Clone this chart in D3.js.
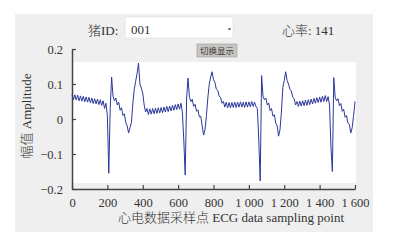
<!DOCTYPE html>
<html>
<head>
<meta charset="utf-8">
<script src="https://cdn.jsdelivr.net/npm/d3@7"></script>
<style>
  body { margin: 0; background: #fff; }
  svg { display: block; }
  text { font-family: "Liberation Serif", "Noto Sans CJK SC", serif; fill: #333; }
</style>
</head>
<body>
<div id="chart"></div>
<script>
// amplitude, one value every 8 sampling points (0 .. 1600)
var sampleStep = 8;
var amplitude = [
  0.070, 0.055, 0.069, 0.054, 0.068, 0.052, 0.066, 0.051, 0.065, 0.049,
  0.063, 0.048, 0.062, 0.046, 0.060, 0.044, 0.058, 0.043, 0.057, 0.041,
  0.055, 0.039, 0.052, 0.030, 0.045, 0.010, -0.155, 0.030, 0.120, 0.065,
  0.052, 0.060, 0.040, 0.048, 0.025, 0.032, 0.010, 0.015, -0.010, -0.020,
  -0.040, -0.025, -0.010, 0.045, 0.085, 0.108, 0.130, 0.160, 0.100, 0.088,
  0.074, 0.040, 0.020, 0.030, 0.013, 0.029, 0.014, 0.030, 0.015, 0.031,
  0.016, 0.032, 0.017, 0.033, 0.018, 0.034, 0.020, 0.036, 0.021, 0.037,
  0.023, 0.039, 0.025, 0.041, 0.027, 0.043, 0.028, 0.045, 0.020, -0.060,
  -0.160, 0.060, 0.117, 0.062, 0.050, 0.056, 0.036, 0.042, 0.022, 0.026,
  0.006, 0.008, -0.020, -0.046, -0.030, 0.010, 0.060, 0.100, 0.120, 0.135,
  0.112, 0.105, 0.085, 0.082, 0.065, 0.062, 0.045, 0.050, 0.034, 0.048,
  0.032, 0.047, 0.032, 0.047, 0.033, 0.048, 0.033, 0.048, 0.034, 0.049,
  0.034, 0.048, 0.033, 0.049, 0.034, 0.049, 0.035, 0.050, 0.036, 0.048,
  0.036, 0.030, -0.060, -0.177, 0.124, 0.065, 0.055, 0.060, 0.040, 0.046,
  0.024, 0.030, 0.008, 0.012, -0.012, -0.020, -0.049, -0.030, 0.020, 0.090,
  0.110, 0.135, 0.110, 0.100, 0.085, 0.080, 0.062, 0.058, 0.040, 0.050,
  0.036, 0.051, 0.037, 0.052, 0.038, 0.054, 0.039, 0.055, 0.041, 0.057,
  0.043, 0.059, 0.045, 0.061, 0.047, 0.063, 0.048, 0.065, 0.050, 0.067,
  0.050, 0.064, 0.040, -0.080, -0.150, 0.118, 0.062, 0.052, 0.058, 0.038,
  0.044, 0.022, 0.028, 0.005, 0.010, -0.012, -0.015, -0.040, -0.025, 0.010,
  0.050
];
var xTicks = [0, 200, 400, 600, 800, 1000, 1200, 1400, 1600];
var xTickLabels = ["0", "200", "400", "600", "800", "1 000", "1 200", "1 400", "1 600"];
var yTicks = [-0.2, -0.1, 0, 0.1, 0.2];
var yTickLabels = ["\u22120.2", "\u22120.1", "0", "0.1", "0.2"];
var pigId = "001";
var heartRate = 141;

var W = 402, H = 240;
var svg = d3.select("#chart").append("svg")
  .attr("width", W)
  .attr("height", H);

// grey panel
svg.append("rect")
  .attr("x", 15).attr("y", 14)
  .attr("width", 358).attr("height", 218)
  .attr("fill", "#efefef");

// header controls
svg.append("text")
  .attr("x", 88).attr("y", 35)
  .attr("font-size", 13)
  .attr("font-weight", 300)
  .text("猪ID:");

svg.append("rect")
  .attr("x", 125).attr("y", 17)
  .attr("width", 108).attr("height", 21)
  .attr("fill", "#fff")
  .attr("stroke", "#dcdcdc")
  .attr("stroke-width", 0.6);

svg.append("text")
  .attr("x", 131).attr("y", 34)
  .attr("font-size", 13)
  .text(pigId);

svg.append("rect")
  .attr("x", 228.5).attr("y", 28)
  .attr("width", 2).attr("height", 2)
  .attr("fill", "#555");

svg.append("text")
  .attr("x", 282).attr("y", 35)
  .attr("font-size", 13)
  .attr("font-weight", 300)
  .text("心率: " + heartRate);

// button
svg.append("rect")
  .attr("x", 197).attr("y", 44)
  .attr("width", 40).attr("height", 13)
  .attr("fill", "#c8c5c2")
  .attr("stroke", "#9a9794")
  .attr("stroke-width", 0.6);

svg.append("text")
  .attr("x", 217).attr("y", 54)
  .attr("text-anchor", "middle")
  .attr("font-size", 8.5)
  .attr("font-family", "Noto Sans CJK SC")
  .style("fill", "#3a3a3a")
  .text("切换显示");

// scales
var x = d3.scaleLinear().domain([0, 1600]).range([72, 355]);
var y = d3.scaleLinear().domain([-0.2, 0.2]).range([189, 49]);

// white plot area
svg.append("rect")
  .attr("x", 73).attr("y", 62)
  .attr("width", 283).attr("height", 121)
  .attr("fill", "#fff");

// signal
var data = amplitude.map(function(v, i) { return { s: i * sampleStep, v: v }; });
var line = d3.line()
  .x(function(d) { return x(d.s); })
  .y(function(d) { return y(d.v); });

svg.append("path")
  .datum(data)
  .attr("fill", "none")
  .attr("stroke", "#2d389a")
  .attr("stroke-width", 1)
  .attr("stroke-linejoin", "round")
  .attr("d", line);

// axes
var xAxis = d3.axisBottom(x)
  .tickValues(xTicks)
  .tickSizeInner(-4)
  .tickSizeOuter(0)
  .tickPadding(9)
  .tickFormat(function(d, i) { return xTickLabels[i]; });

var yAxis = d3.axisLeft(y)
  .tickValues(yTicks)
  .tickSizeInner(-4)
  .tickSizeOuter(0)
  .tickPadding(9)
  .tickFormat(function(d, i) { return yTickLabels[i]; });

var gx = svg.append("g")
  .attr("transform", "translate(0,189)")
  .call(xAxis);

var gy = svg.append("g")
  .attr("transform", "translate(72,0)")
  .call(yAxis);

[gx, gy].forEach(function(g) {
  g.select(".domain").attr("stroke", "#444").attr("stroke-width", 1.5);
  g.selectAll(".tick line").attr("stroke", "#444").attr("stroke-width", 1.2);
  g.selectAll(".tick text")
    .attr("font-size", 12.5)
    .attr("font-family", "Liberation Serif")
    .style("fill", "#333");
});

// axis titles
svg.append("text")
  .attr("x", 231).attr("y", 222)
  .attr("text-anchor", "middle")
  .attr("font-size", 13)
  .attr("font-weight", 300)
  .text("心电数据采样点 ECG data sampling point");

svg.append("text")
  .attr("transform", "translate(31,116) rotate(-90)")
  .attr("text-anchor", "middle")
  .attr("font-size", 13)
  .attr("font-weight", 300)
  .text("幅值 Amplitude");
</script>
</body>
</html>
